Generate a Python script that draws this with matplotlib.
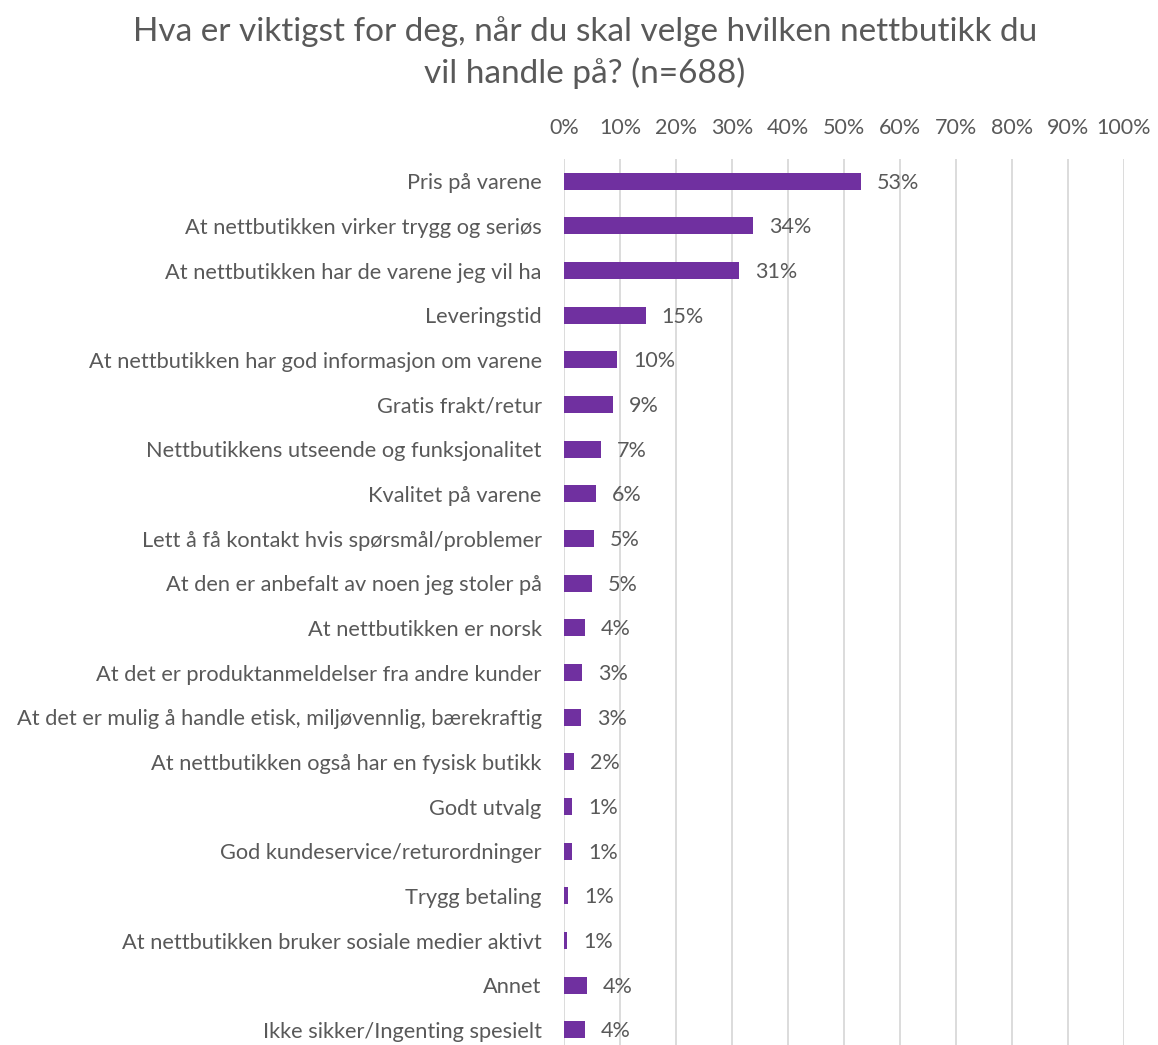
import matplotlib.pyplot as plt
from matplotlib.ticker import PercentFormatter

plt.rcParams['font.family'] = ['Lato', 'DejaVu Sans']

# Data
categories = [
    'Pris på varene',
    'At nettbutikken virker trygg og seriøs',
    'At nettbutikken har de varene jeg vil ha',
    'Leveringstid',
    'At nettbutikken har god informasjon om varene',
    'Gratis frakt/retur',
    'Nettbutikkens utseende og funksjonalitet',
    'Kvalitet på varene',
    'Lett å få kontakt hvis spørsmål/problemer',
    'At den er anbefalt av noen jeg stoler på',
    'At nettbutikken er norsk',
    'At det er produktanmeldelser fra andre kunder',
    'At det er mulig å handle etisk, miljøvennlig, bærekraftig',
    'At nettbutikken også har en fysisk butikk',
    'Godt utvalg',
    'God kundeservice/returordninger',
    'Trygg betaling',
    'At nettbutikken bruker sosiale medier aktivt',
    'Annet',
    'Ikke sikker/Ingenting spesielt',
]
values = [53.0, 33.8, 31.3, 14.6, 9.5, 8.8, 6.6, 5.7, 5.3, 5.0,
          3.7, 3.3, 3.1, 1.8, 1.5, 1.5, 0.8, 0.6, 4.1, 3.8]
labels = ['53%', '34%', '31%', '15%', '10%', '9%', '7%', '6%', '5%', '5%',
          '4%', '3%', '3%', '2%', '1%', '1%', '1%', '1%', '4%', '4%']

text_color = '#595959'
bar_color = '#7030A0'

fig = plt.figure(figsize=(11.58, 10.45), dpi=100)
ax = fig.add_axes([0.487, -0.007, 0.4836, 0.855])

y = list(range(len(categories)))
ax.barh(y, values, height=0.38, color=bar_color, zorder=3)

for yi, v, lab in zip(y, values, labels):
    ax.text(v + 2.8, yi + 0.03, lab, va='center', ha='left', fontsize=15.5, color=text_color)

ax.set_xlim(0, 100)
ax.set_ylim(len(categories) - 0.5, -0.5)
ax.set_xticks(range(0, 101, 10))
ax.xaxis.set_major_formatter(PercentFormatter(decimals=0))
ax.xaxis.tick_top()
ax.set_yticks(y)
ax.set_yticklabels(categories)
ax.tick_params(axis='both', length=0, labelsize=15.5, colors=text_color)
ax.tick_params(axis='x', pad=15)
ax.tick_params(axis='y', pad=16)
for t in ax.get_yticklabels():
    t.set_fontsize(15.7)
ax.grid(axis='x', color='#D9D9D9', linewidth=1.3, zorder=0)
for s in ax.spines.values():
    s.set_visible(False)

fig.text(0.505, 0.950, 'Hva er viktigst for deg, når du skal velge hvilken nettbutikk du\nvil handle på? (n=688)',
         ha='center', va='center', fontsize=24, color=text_color, linespacing=1.4)

fig.savefig('out.png', dpi=100)
